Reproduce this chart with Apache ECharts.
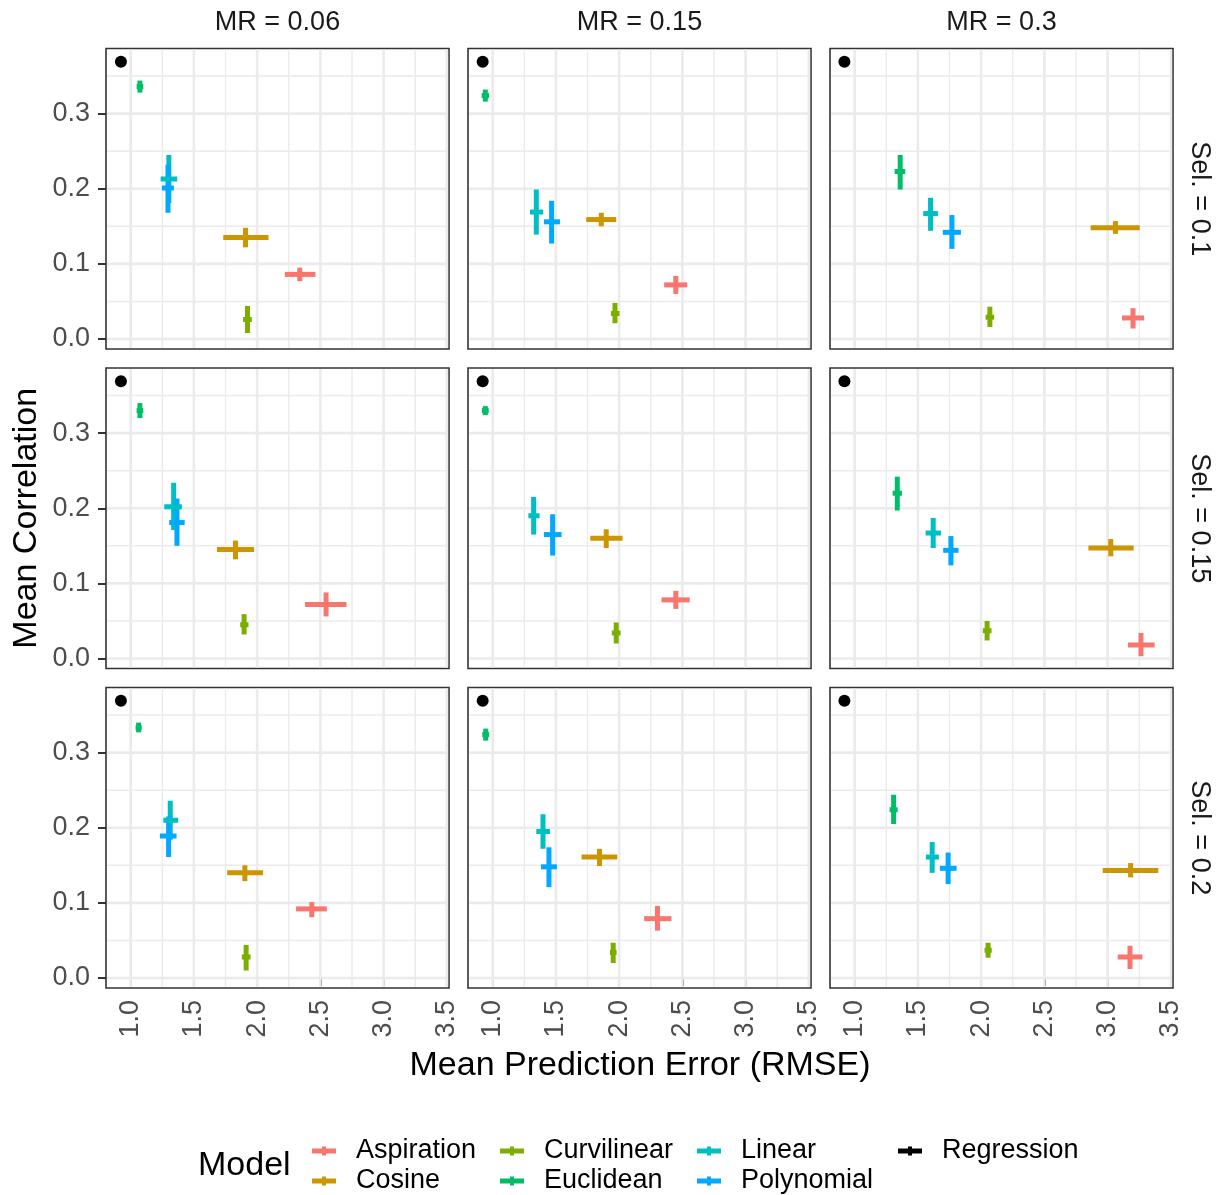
<!DOCTYPE html>
<html>
<head>
<meta charset="utf-8">
<script src="https://cdn.jsdelivr.net/npm/echarts@6/dist/echarts.min.js"></script>
<style>
  html, body { margin: 0; padding: 0; background: #ffffff; }
  #chart { width: 1219px; height: 1195px; }
</style>
</head>
<body>
<div id="chart"></div>
<script>
// Facet levels
const mrLevels = ['MR = 0.06', 'MR = 0.15', 'MR = 0.3'];
const selLevels = ['Sel. = 0.1', 'Sel. = 0.15', 'Sel. = 0.2'];

// Models and their colours
const models = ['Aspiration', 'Cosine', 'Curvilinear', 'Euclidean', 'Linear', 'Polynomial'];
const modelColors = ['#F8766D', '#CD9600', '#7CAE00', '#00BE67', '#00BFC4', '#00A9FF'];

// One row per panel (Sel. 0.1 / 0.15 / 0.2, each with MR 0.06 / 0.15 / 0.3):
// [rmse, rmseLow, rmseHigh, corr, corrLow, corrHigh]
const aspiration = [
  [2.337, 2.219, 2.461, 0.086, 0.077, 0.095],
  [2.448, 2.356, 2.538, 0.072, 0.060, 0.084],
  [3.201, 3.114, 3.288, 0.028, 0.014, 0.041],
  [2.545, 2.379, 2.706, 0.072, 0.056, 0.088],
  [2.448, 2.335, 2.558, 0.078, 0.066, 0.090],
  [3.264, 3.161, 3.372, 0.018, 0.003, 0.034],
  [2.432, 2.308, 2.551, 0.092, 0.081, 0.101],
  [2.303, 2.198, 2.414, 0.079, 0.063, 0.096],
  [3.177, 3.080, 3.275, 0.028, 0.012, 0.043]
];
const cosine = [
  [1.908, 1.732, 2.090, 0.135, 0.122, 0.148],
  [1.859, 1.740, 1.977, 0.159, 0.150, 0.168],
  [3.062, 2.866, 3.254, 0.148, 0.140, 0.157],
  [1.829, 1.682, 1.976, 0.145, 0.132, 0.157],
  [1.898, 1.772, 2.027, 0.160, 0.147, 0.172],
  [3.025, 2.848, 3.206, 0.147, 0.136, 0.159],
  [1.903, 1.763, 2.047, 0.140, 0.129, 0.150],
  [1.845, 1.703, 1.985, 0.161, 0.149, 0.172],
  [3.182, 2.961, 3.401, 0.143, 0.134, 0.153]
];
const curvilinear = [
  [1.924, 1.889, 1.958, 0.026, 0.008, 0.044],
  [1.967, 1.935, 2.003, 0.034, 0.021, 0.048],
  [2.069, 2.035, 2.103, 0.029, 0.016, 0.043],
  [1.897, 1.866, 1.932, 0.045, 0.032, 0.059],
  [1.977, 1.942, 2.011, 0.034, 0.020, 0.048],
  [2.047, 2.013, 2.082, 0.037, 0.024, 0.050],
  [1.913, 1.879, 1.948, 0.028, 0.010, 0.044],
  [1.953, 1.927, 1.980, 0.034, 0.020, 0.047],
  [2.055, 2.027, 2.084, 0.037, 0.027, 0.047]
];
const euclidean = [
  [1.073, 1.047, 1.100, 0.336, 0.328, 0.344],
  [0.942, 0.913, 0.971, 0.324, 0.316, 0.332],
  [1.360, 1.316, 1.400, 0.223, 0.199, 0.245],
  [1.073, 1.047, 1.100, 0.330, 0.320, 0.340],
  [0.942, 0.915, 0.969, 0.330, 0.324, 0.336],
  [1.337, 1.300, 1.374, 0.220, 0.197, 0.242],
  [1.063, 1.039, 1.087, 0.333, 0.327, 0.340],
  [0.945, 0.918, 0.972, 0.324, 0.316, 0.332],
  [1.308, 1.276, 1.340, 0.224, 0.205, 0.244]
];
const linear = [
  [1.302, 1.237, 1.368, 0.213, 0.181, 0.245],
  [1.345, 1.295, 1.400, 0.169, 0.139, 0.199],
  [1.600, 1.542, 1.658, 0.167, 0.144, 0.188],
  [1.340, 1.266, 1.405, 0.202, 0.171, 0.234],
  [1.324, 1.282, 1.371, 0.190, 0.165, 0.215],
  [1.621, 1.561, 1.682, 0.167, 0.147, 0.187],
  [1.313, 1.258, 1.376, 0.210, 0.184, 0.236],
  [1.398, 1.345, 1.453, 0.195, 0.172, 0.218],
  [1.613, 1.563, 1.666, 0.161, 0.140, 0.181]
];
const polynomial = [
  [1.295, 1.247, 1.342, 0.201, 0.168, 0.232],
  [1.466, 1.405, 1.532, 0.156, 0.127, 0.184],
  [1.769, 1.697, 1.840, 0.142, 0.120, 0.165],
  [1.366, 1.305, 1.427, 0.181, 0.150, 0.213],
  [1.474, 1.405, 1.545, 0.165, 0.137, 0.192],
  [1.761, 1.700, 1.821, 0.144, 0.124, 0.163],
  [1.300, 1.231, 1.363, 0.189, 0.161, 0.215],
  [1.445, 1.382, 1.508, 0.148, 0.121, 0.174],
  [1.739, 1.674, 1.806, 0.146, 0.125, 0.167]
];
// Regression baseline: one point per panel
const regressionRmse = [0.923, 0.921, 0.919, 0.923, 0.921, 0.919, 0.923, 0.921, 0.919];
const regressionCorr = [0.369, 0.369, 0.369, 0.369, 0.369, 0.369, 0.369, 0.369, 0.369];

// Axis breaks
const xTicks = [1.0, 1.5, 2.0, 2.5, 3.0, 3.5];
const xMinorTicks = [1.25, 1.75, 2.25, 2.75, 3.25];
const yTicks = [0.0, 0.1, 0.2, 0.3];
const yMinorTicks = [0.05, 0.15, 0.25, 0.35];

const modelData = [aspiration, cosine, curvilinear, euclidean, linear, polynomial];

// Shared scale limits (fixed across facets)
const xRange = [0.805, 3.517];
const yRange = [-0.0133, 0.3867];

// Panel geometry
const colLeft = [106, 468, 830];
const rowTop = [48.5, 368, 687.5];
const panelW = 343;
const panelH = 300.5;

const FONT = '"Liberation Sans", Arial, Helvetica, sans-serif';
const crossIcon = 'path://M0,2h24v5h-24z M10,0h4v9h-4z';

const grids = [], xAxes = [], yAxes = [], series = [];

for (let r = 0; r < 3; r++) {
  for (let c = 0; c < 3; c++) {
    const p = r * 3 + c;
    grids.push({
      left: colLeft[c], top: rowTop[r], width: panelW, height: panelH,
      show: true, backgroundColor: '#ffffff',
      borderColor: '#333333', borderWidth: 1.6,
      containLabel: false
    });
    xAxes.push({
      type: 'value', gridIndex: p, min: xRange[0], max: xRange[1],
      axisLine: { show: false },
      splitLine: { show: false },
      axisTick: {
        show: r === 2, customValues: xTicks, length: 8,
        lineStyle: { color: '#333333', width: 2 }
      },
      axisLabel: {
        show: r === 2, customValues: xTicks, rotate: 90, margin: 12,
        formatter: v => v.toFixed(1),
        fontSize: 27, color: '#4D4D4D', fontFamily: FONT
      }
    });
    yAxes.push({
      type: 'value', gridIndex: p, min: yRange[0], max: yRange[1],
      axisLine: { show: false },
      splitLine: { show: false },
      axisTick: {
        show: c === 0, customValues: yTicks, length: 8,
        lineStyle: { color: '#333333', width: 2 }
      },
      axisLabel: {
        show: c === 0, customValues: yTicks, margin: 16,
        formatter: v => v.toFixed(1),
        fontSize: 27, color: '#4D4D4D', fontFamily: FONT
      }
    });

    // Panel grid lines: [orientation (0 = vertical, 1 = horizontal), value, major flag]
    const gridLineData = []
      .concat(xMinorTicks.map(v => [0, v, 0]))
      .concat(yMinorTicks.map(v => [1, v, 0]))
      .concat(xTicks.map(v => [0, v, 1]))
      .concat(yTicks.map(v => [1, v, 1]));
    series.push({
      type: 'custom', name: 'grid-' + p, silent: true, z: 1,
      xAxisIndex: p, yAxisIndex: p,
      encode: { x: 1, y: 1 },
      data: gridLineData,
      renderItem: (params, api) => {
        const cs = params.coordSys;
        const horiz = api.value(0) === 1;
        const v = api.value(1);
        const major = api.value(2) === 1;
        const style = { stroke: '#EBEBEB', lineWidth: major ? 2.6 : 1.4 };
        if (horiz) {
          const yPix = api.coord([xRange[0], v])[1];
          return { type: 'line', shape: { x1: cs.x + 1, y1: yPix, x2: cs.x + cs.width - 1, y2: yPix }, style };
        }
        const xPix = api.coord([v, yRange[0]])[0];
        return { type: 'line', shape: { x1: xPix, y1: cs.y + 1, x2: xPix, y2: cs.y + cs.height - 1 }, style };
      }
    });

    // Error crosses for each model
    models.forEach((m, mi) => {
      series.push({
        type: 'custom', name: m, z: 2,
        xAxisIndex: p, yAxisIndex: p,
        itemStyle: { color: modelColors[mi] },
        encode: { x: 0, y: 3 },
        data: [modelData[mi][p]],
        renderItem: (params, api) => {
          const col = api.visual('color');
          const x = api.value(0), xl = api.value(1), xh = api.value(2);
          const y = api.value(3), yl = api.value(4), yh = api.value(5);
          const vTop = api.coord([x, yh]);
          const vBot = api.coord([x, yl]);
          const hL = api.coord([xl, y]);
          const hR = api.coord([xh, y]);
          return {
            type: 'group',
            children: [
              { type: 'line', z2: 10 + mi,
                shape: { x1: vTop[0], y1: vTop[1], x2: vBot[0], y2: vBot[1] },
                style: { stroke: col, lineWidth: 5, lineCap: 'butt' } },
              { type: 'line', z2: 30 + mi,
                shape: { x1: hL[0], y1: hL[1], x2: hR[0], y2: hR[1] },
                style: { stroke: col, lineWidth: 5, lineCap: 'butt' } }
            ]
          };
        }
      });
    });

    // Regression point
    series.push({
      type: 'scatter', name: 'Regression', z: 3,
      xAxisIndex: p, yAxisIndex: p,
      symbol: 'circle', symbolSize: 12,
      itemStyle: { color: '#000000', opacity: 1 },
      data: [[regressionRmse[p], regressionCorr[p]]]
    });
  }
}

const legendCols = [
  { left: 312, items: ['Aspiration', 'Cosine'] },
  { left: 500, items: ['Curvilinear', 'Euclidean'] },
  { left: 697, items: ['Linear', 'Polynomial'] },
  { left: 898, items: ['Regression'] }
];

const legends = legendCols.map(col => ({
  orient: 'vertical', left: col.left, top: 1137, padding: 0,
  itemWidth: 24, itemHeight: 9, itemGap: 2,
  selectedMode: false, icon: crossIcon,
  textStyle: { fontSize: 27, color: '#000000', fontFamily: FONT, lineHeight: 28, padding: [0, 0, 0, 15] },
  data: col.items.map(n => ({ name: n, icon: crossIcon, itemStyle: { opacity: 1 } }))
}));

const graphics = [];
mrLevels.forEach((t, c) => {
  graphics.push({
    type: 'text', x: colLeft[c] + panelW / 2, y: 23,
    style: { text: t, fontSize: 27, fontFamily: FONT, fill: '#1A1A1A', textAlign: 'center', textVerticalAlign: 'middle' }
  });
});
selLevels.forEach((t, r) => {
  graphics.push({
    type: 'text', x: 1199, y: rowTop[r] + panelH / 2, rotation: -Math.PI / 2,
    style: { text: t, fontSize: 27, fontFamily: FONT, fill: '#1A1A1A', textAlign: 'center', textVerticalAlign: 'middle' }
  });
});
graphics.push({
  type: 'text', x: 640, y: 1066,
  style: { text: 'Mean Prediction Error (RMSE)', fontSize: 34, fontFamily: FONT, fill: '#000000', textAlign: 'center', textVerticalAlign: 'middle' }
});
graphics.push({
  type: 'text', x: 27, y: (rowTop[0] + rowTop[2] + panelH) / 2, rotation: Math.PI / 2,
  style: { text: 'Mean Correlation', fontSize: 34, fontFamily: FONT, fill: '#000000', textAlign: 'center', textVerticalAlign: 'middle' }
});
graphics.push({
  type: 'text', x: 198, y: 1166,
  style: { text: 'Model', fontSize: 34, fontFamily: FONT, fill: '#000000', textAlign: 'left', textVerticalAlign: 'middle' }
});

const chart = echarts.init(document.getElementById('chart'), null, { renderer: 'canvas' });
chart.setOption({
  backgroundColor: '#ffffff',
  animation: false,
  grid: grids,
  xAxis: xAxes,
  yAxis: yAxes,
  legend: legends,
  graphic: graphics,
  series: series
});
</script>
</body>
</html>
